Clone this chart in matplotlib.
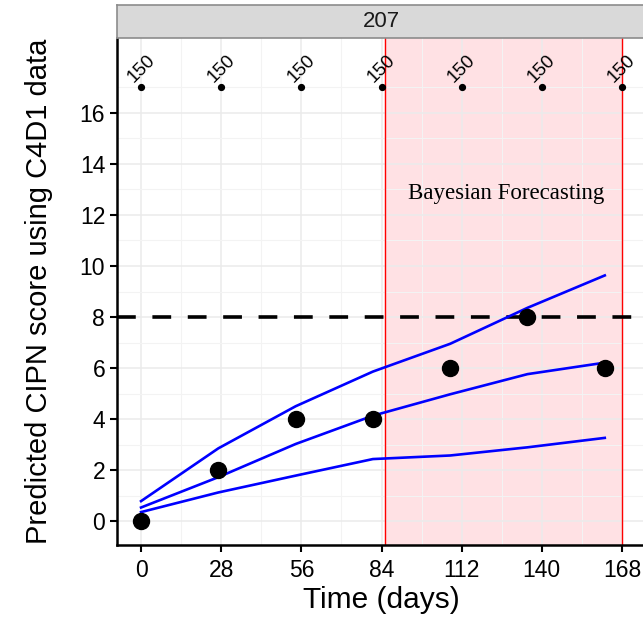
import matplotlib
matplotlib.use("Agg")
import matplotlib.pyplot as plt
import numpy as np

# ---- data ----
obs_days = [0, 27, 54, 81, 108, 135, 162]
obs_score = [0, 2, 4, 4, 6, 8, 6]
upper = [0.78, 2.85, 4.5, 5.86, 6.95, 8.36, 9.63]
middle = [0.53, 1.72, 3.02, 4.13, 4.97, 5.76, 6.21]
lower = [0.35, 1.12, 1.78, 2.43, 2.57, 2.89, 3.26]
dose_days = [0, 28, 56, 84, 112, 140, 168]
dose_labels = ["150"] * 7
dose_y = 17
forecast_start = 85.3
forecast_end = 168
threshold = 8
panel_label = "207"
x_ticks = [0, 28, 56, 84, 112, 140, 168]
y_ticks = [0, 2, 4, 6, 8, 10, 12, 14, 16]

plt.rcParams['font.family'] = ['Liberation Sans', 'DejaVu Sans']

fig = plt.figure(figsize=(6.43, 6.21), dpi=100)
ax = fig.add_axes([117/643, 1-545/621, (646-117)/643, (545-38)/621])
ax.set_xlim(-8.4, 176.4)
ax.set_ylim(-0.94, 18.94)

# grid
ax.set_xticks(x_ticks)
ax.set_yticks(y_ticks)
ax.set_xticks([14, 42, 70, 98, 126, 154], minor=True)
ax.set_yticks(np.arange(1, 19, 2), minor=True)
ax.grid(True, which='major', color='#EBEBEB', lw=1.1)
ax.grid(True, which='minor', color='#F3F3F3', lw=0.8)
ax.set_axisbelow(True)

# forecasting region
ax.axvspan(forecast_start, forecast_end, color='#FFE1E4', zorder=0.5)
ax.axvline(forecast_start, color='#FF0000', lw=1.0, zorder=2)
ax.axvline(forecast_end, color='#FF0000', lw=1.0, zorder=2)
ax.text(127.5, 12.85, "Bayesian Forecasting", family=['Liberation Serif', 'DejaVu Serif'],
        fontsize=16.5, ha='center', va='center', zorder=5)

# threshold
ax.axhline(threshold, color='black', lw=2.6, linestyle=(0, (5.2, 4.6)), zorder=3)

# prediction lines
for s in (upper, middle, lower):
    ax.plot(obs_days, s, color='#0000FF', lw=1.9, zorder=4)

# observations
ax.plot(obs_days, obs_score, 'o', color='black', ms=11.5, zorder=6)

# dose markers
ax.plot(dose_days, [dose_y]*len(dose_days), 'o', color='black', ms=4.2, zorder=6)
for d, lab in zip(dose_days, dose_labels):
    ax.text(d, dose_y + 0.75, lab, rotation=45, ha='center', va='center',
            fontsize=13.5, zorder=6)

# spines
for side in ('top', 'right'):
    ax.spines[side].set_visible(False)
ax.spines['left'].set_linewidth(1.8)
ax.spines['bottom'].set_linewidth(1.8)
ax.tick_params(axis='both', which='major', length=5, width=1.5, labelsize=16.5, colors='black')
ax.tick_params(axis='x', which='major', pad=5)
ax.tick_params(axis='both', which='minor', length=0)

ax.set_xlabel("Time (days)", fontsize=21.5)
ax.set_ylabel("Predicted CIPN score using C4D1 data", fontsize=21)
ax.xaxis.set_label_coords(0.5, -0.108)
ax.yaxis.set_label_coords(-0.148, 0.5)
ax.xaxis.label.set_va('center')
ax.yaxis.label.set_va('center')

# strip
sax = fig.add_axes([117/643, 1-38/621, (646-117)/643, 33/621])
sax.set_xticks([]); sax.set_yticks([])
sax.set_facecolor('#D9D9D9')
for sp in sax.spines.values():
    sp.set_color('#8C8C8C'); sp.set_linewidth(1.2)
sax.text(0.5, 0.5, panel_label, transform=sax.transAxes, ha='center', va='center',
         fontsize=16, color='#1A1A1A')

fig.savefig("out.png", dpi=100)
